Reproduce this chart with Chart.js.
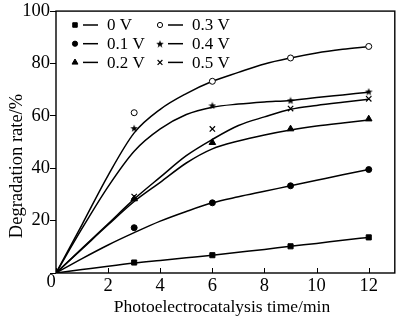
<!DOCTYPE html>
<html>
<head>
<meta charset="utf-8">
<script src="https://cdn.jsdelivr.net/npm/chart.js@4.4.1/dist/chart.umd.min.js"></script>
<style>
  html, body { margin: 0; padding: 0; background: #fff; }
</style>
</head>
<body>
<canvas id="chart" width="400" height="321"></canvas>
<script>
// sampling times (min) of the measured points
const sampleTimes = [0, 3, 6, 9, 12];
const curveTimes = [0, 1, 2, 3, 4, 5, 6, 7, 8, 9, 10, 11, 12];
const xTicks = [0, 2, 4, 6, 8, 10, 12];
const yTicks = [0, 20, 40, 60, 80, 100];

const seriesNames = ['0 V', '0.1 V', '0.2 V', '0.3 V', '0.4 V', '0.5 V'];

// measured degradation rate (%)
const points0V  = [0, 4.0, 6.8, 10.2, 13.6];
const points01V = [0, 17.3, 26.8, 33.3, 39.5];
const points02V = [0, 28.3, 49.8, 55.0, 58.8];
const points03V = [0, 61.2, 73.2, 82.1, 86.5];
const points04V = [0, 55.3, 64.0, 65.9, 69.3];
const points05V = [0, 29.2, 55.0, 62.8, 66.5];

// fitted curves
const curve0V  = [0, 1.3, 2.6, 3.8, 4.8, 5.8, 6.8, 7.9, 9.0, 10.2, 11.3, 12.5, 13.6];
const curve01V = [0, 5.5, 10.7, 15.4, 19.8, 23.5, 26.8, 29.1, 31.2, 33.3, 35.4, 37.5, 39.5];
const curve02V = [0, 9.2, 18.4, 27.3, 34.6, 42.0, 47.4, 50.4, 52.7, 54.6, 56.1, 57.3, 58.4];
const curve03V = [0, 18.5, 37.3, 53.5, 62.5, 68.5, 73.2, 76.6, 79.8, 82.1, 84.0, 85.4, 86.5];
const curve04V = [0, 17.0, 33.0, 46.5, 55.0, 60.5, 63.3, 64.5, 65.3, 65.9, 67.0, 68.0, 69.0];
const curve05V = [0, 9.4, 18.8, 28.2, 36.6, 44.8, 51.0, 56.3, 59.6, 62.5, 64.0, 65.2, 66.3];

const xTitle = 'Photoelectrocatalysis time/min';
const yTitle = 'Degradation rate/%';

const allPoints = [points0V, points01V, points02V, points03V, points04V, points05V];
const allCurves = [curve0V, curve01V, curve02V, curve03V, curve04V, curve05V];

const FONT = '"Liberation Serif", "Times New Roman", serif';

// small filled five-point star, used as a point style
function makeStar(size) {
    const c = document.createElement('canvas');
    c.width = size; c.height = size;
    const g = c.getContext('2d');
    g.fillStyle = '#000';
    g.beginPath();
    const cx = size / 2, cy = size / 2 + 0.4, R = size / 2, r = R * 0.42;
    for (let k = 0; k < 10; k++) {
        const ang = -Math.PI / 2 + k * Math.PI / 5;
        const rr = k % 2 ? r : R;
        g.lineTo(cx + rr * Math.cos(ang), cy + rr * Math.sin(ang));
    }
    g.closePath();
    g.fill();
    return c;
}

const markerStyles = [
    {pointStyle: 'rect', radius: 3.6, bg: '#000', bw: 1},
    {pointStyle: 'circle', radius: 3, bg: '#000', bw: 1},
    {pointStyle: 'triangle', radius: 3.8, bg: '#000', bw: 1},
    {pointStyle: 'circle', radius: 3, bg: '#fff', bw: 1},
    {pointStyle: makeStar(8), radius: 4, bg: '#000', bw: 1},
    {pointStyle: 'crossRot', radius: 3.8, bg: '#000', bw: 1.2}
];

function toXY(xs, ys) {
    return xs.map((x, i) => ({x: x, y: ys[i]}));
}

const datasets = [];
for (let i = 0; i < seriesNames.length; i++) {
    datasets.push({
        label: seriesNames[i] + ' fit',
        data: toXY(curveTimes, allCurves[i]),
        borderColor: '#000',
        borderWidth: 1.5,
        pointRadius: 0,
        cubicInterpolationMode: 'monotone',
        fill: false,
        order: 1
    });
    const m = markerStyles[i];
    datasets.push({
        label: seriesNames[i],
        data: toXY(sampleTimes, allPoints[i]),
        showLine: false,
        pointStyle: m.pointStyle,
        pointRadius: m.radius,
        pointBackgroundColor: m.bg,
        pointBorderColor: '#000',
        pointBorderWidth: m.bw,
        order: 0
    });
}

// frame, inner ticks, titles and the two-column legend
const decorPlugin = {
    id: 'decor',
    afterDraw(chart) {
        const ctx = chart.ctx;
        const a = chart.chartArea;
        const x = chart.scales.x;
        ctx.save();
        ctx.strokeStyle = '#000';
        ctx.lineWidth = 1.4;
        ctx.strokeRect(a.left, a.top, a.right - a.left, a.bottom - a.top);

        ctx.lineWidth = 1;
        ctx.beginPath();
        for (const t of xTicks) {
            const px = Math.round(x.getPixelForValue(t)) + 0.5;
            ctx.moveTo(px, a.bottom);
            ctx.lineTo(px, a.bottom - 5);
        }
        ctx.stroke();

        ctx.fillStyle = '#000';
        ctx.textAlign = 'center';
        ctx.textBaseline = 'middle';
        ctx.font = '18.5px ' + FONT;
        ctx.fillText('0', a.left - 5, a.bottom + 9);
        ctx.font = '17.5px ' + FONT;
        ctx.fillText(xTitle, 222, 307);

        ctx.save();
        ctx.translate(17, 166);
        ctx.rotate(-Math.PI / 2);
        ctx.font = '18.5px ' + FONT;
        ctx.fillText(yTitle, 0, 0);
        ctx.restore();

        // legend
        ctx.textAlign = 'left';
        ctx.font = '17px ' + FONT;
        for (let i = 0; i < seriesNames.length; i++) {
            const col = Math.floor(i / 3), row = i % 3;
            const lx = 75 + col * 85, ly = 25 + row * 18.7;
            const m = markerStyles[i];
            ctx.fillStyle = m.bg;
            ctx.strokeStyle = '#000';
            ctx.lineWidth = m.bw;
            Chart.helpers.drawPoint(ctx, {pointStyle: m.pointStyle, radius: m.radius - 0.4, borderWidth: m.bw, rotation: 0}, lx, ly);
            ctx.lineWidth = 1.5;
            ctx.beginPath();
            ctx.moveTo(lx + 8, ly);
            ctx.lineTo(lx + 23, ly);
            ctx.stroke();
            ctx.fillStyle = '#000';
            ctx.fillText(seriesNames[i], lx + 32, ly + 1);
        }
        ctx.restore();
    }
};

new Chart(document.getElementById('chart'), {
    type: 'line',
    data: {datasets: datasets},
    options: {
        responsive: false,
        animation: false,
        events: [],
        layout: {padding: {top: 6, right: 1, left: 0, bottom: 0}},
        plugins: {legend: {display: false}, tooltip: {enabled: false}},
        scales: {
            x: {
                type: 'linear',
                min: 0,
                max: 13,
                afterFit: s => { s.height = 48; },
                afterBuildTicks: s => { s.ticks = xTicks.map(v => ({value: v})); },
                grid: {display: false, drawTicks: false},
                border: {display: false},
                ticks: {
                    padding: 2,
                    color: '#000',
                    font: {family: FONT, size: 18.5},
                    callback: v => (v === 0 ? '' : v)
                }
            },
            y: {
                min: 0,
                max: 100,
                afterFit: s => { s.width = 56; },
                afterBuildTicks: s => { s.ticks = yTicks.map(v => ({value: v})); },
                grid: {drawOnChartArea: false, drawTicks: true, tickLength: 6, color: '#000', lineWidth: 1},
                border: {display: false},
                ticks: {
                    padding: 0,
                    color: '#000',
                    font: {family: FONT, size: 18.5},
                    callback: v => (v === 0 ? '' : v)
                }
            }
        }
    },
    plugins: [decorPlugin]
});
</script>
</body>
</html>
